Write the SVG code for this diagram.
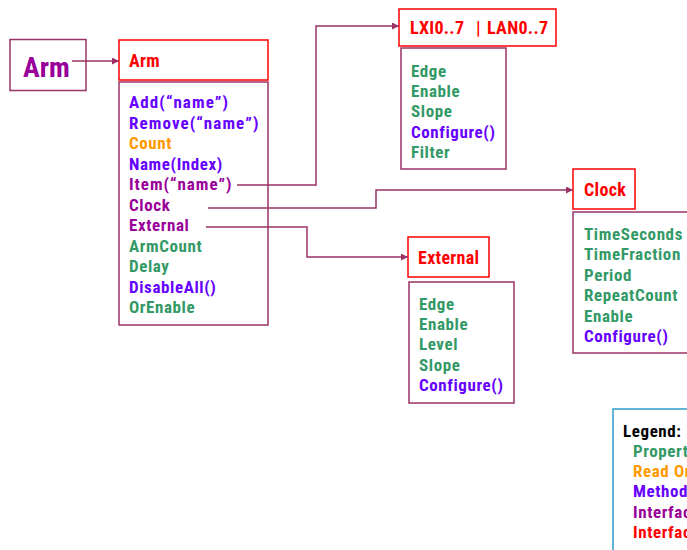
<svg xmlns="http://www.w3.org/2000/svg" width="687" height="550" viewBox="0 0 687 550">
<style>
text{font-family:"Liberation Sans Narrow","Roboto Condensed","Liberation Sans",sans-serif;font-weight:bold;font-size:17px;letter-spacing:0.6px}
.box{fill:#fff;stroke:#993366;stroke-width:1.5}
.title{fill:#fff;stroke:#ff0000;stroke-width:1.5}
.t{fill:#ff0000;font-size:18px;letter-spacing:0.3px}
.p{fill:#339966}
.r{fill:#ff9900}
.m{fill:#6600ff}
.i{fill:#990099}
.c{fill:none;stroke:#993366;stroke-width:1.5}
</style>
<defs>
<marker id="ah" viewBox="0 0 10 10" refX="10" refY="5" markerWidth="7" markerHeight="7" markerUnits="userSpaceOnUse" orient="auto">
<path d="M0,0 L10,5 L0,10 z" fill="#993366"/>
</marker>
</defs>
<rect width="687" height="550" fill="#fff"/>
<g id="arm-root">
<rect class="box" x="10" y="39.5" width="76" height="51"/>
<text x="23" y="77" class="i" style="font-size:28px;letter-spacing:0">Arm</text>
</g>
<g id="arm">
<rect class="title" x="119" y="40" width="149" height="40"/>
<text x="129" y="67" class="t">Arm</text>
<rect class="box" x="119" y="82" width="149" height="243"/>
<text x="129" y="108" class="m" style="letter-spacing:1.1px">Add(“name”)</text>
<text x="129" y="129" class="m" style="letter-spacing:1.1px">Remove(“name”)</text>
<text x="129" y="149" class="r">Count</text>
<text x="129" y="170" class="m">Name(Index)</text>
<text x="129" y="190" class="i" style="letter-spacing:1px">Item(“name”)</text>
<text x="129" y="211" class="i">Clock</text>
<text x="129" y="231" class="i">External</text>
<text x="129" y="252" class="p">ArmCount</text>
<text x="129" y="272" class="p">Delay</text>
<text x="129" y="293" class="m">DisableAll()</text>
<text x="129" y="313" class="p">OrEnable</text>
</g>
<g id="lxi">
<rect class="title" x="399" y="9" width="157" height="37"/>
<text x="410" y="34" class="t">LXI0..7<tspan x="476">|</tspan><tspan x="487">LAN0..7</tspan></text>
<rect class="box" x="401" y="48" width="105" height="121"/>
<text x="411" y="77" class="p">Edge</text>
<text x="411" y="97" class="p">Enable</text>
<text x="411" y="117" class="p">Slope</text>
<text x="411" y="138" class="m">Configure()</text>
<text x="411" y="158" class="p">Filter</text>
</g>
<g id="clock">
<rect class="title" x="573" y="169" width="62" height="40"/>
<text x="584" y="196" class="t">Clock</text>
<rect class="box" x="573" y="212" width="130" height="141"/>
<text x="584" y="240" class="p">TimeSeconds</text>
<text x="584" y="260" class="p">TimeFraction</text>
<text x="584" y="281" class="p">Period</text>
<text x="584" y="301" class="p">RepeatCount</text>
<text x="584" y="322" class="p">Enable</text>
<text x="584" y="342" class="m">Configure()</text>
</g>
<g id="external">
<rect class="title" x="408" y="237" width="81" height="40"/>
<text x="418" y="264" class="t">External</text>
<rect class="box" x="409" y="282" width="105" height="121"/>
<text x="419" y="310" class="p">Edge</text>
<text x="419" y="330" class="p">Enable</text>
<text x="419" y="350" class="p">Level</text>
<text x="419" y="371" class="p">Slope</text>
<text x="419" y="391" class="m">Configure()</text>
</g>
<g id="legend">
<rect x="613" y="409" width="100" height="160" fill="#fff" stroke="#3399cc" stroke-width="1.5"/>
<text x="623" y="437" fill="#000">Legend:</text>
<text x="633" y="457" class="p">Properties</text>
<text x="633" y="477" class="r">Read Only</text>
<text x="633" y="497" class="m">Methods</text>
<text x="633" y="518" class="i">Interface</text>
<text x="633" y="538" fill="#ff0000">Interface</text>
</g>
<g id="connectors">
<path class="c" d="M72,61 H119" marker-end="url(#ah)"/>
<path class="c" d="M237,185 H316 V26 H399" marker-end="url(#ah)"/>
<path class="c" d="M208,208 H376 V190 H573" marker-end="url(#ah)"/>
<path class="c" d="M206,227 H307 V257 H408" marker-end="url(#ah)"/>
</g>
</svg>
